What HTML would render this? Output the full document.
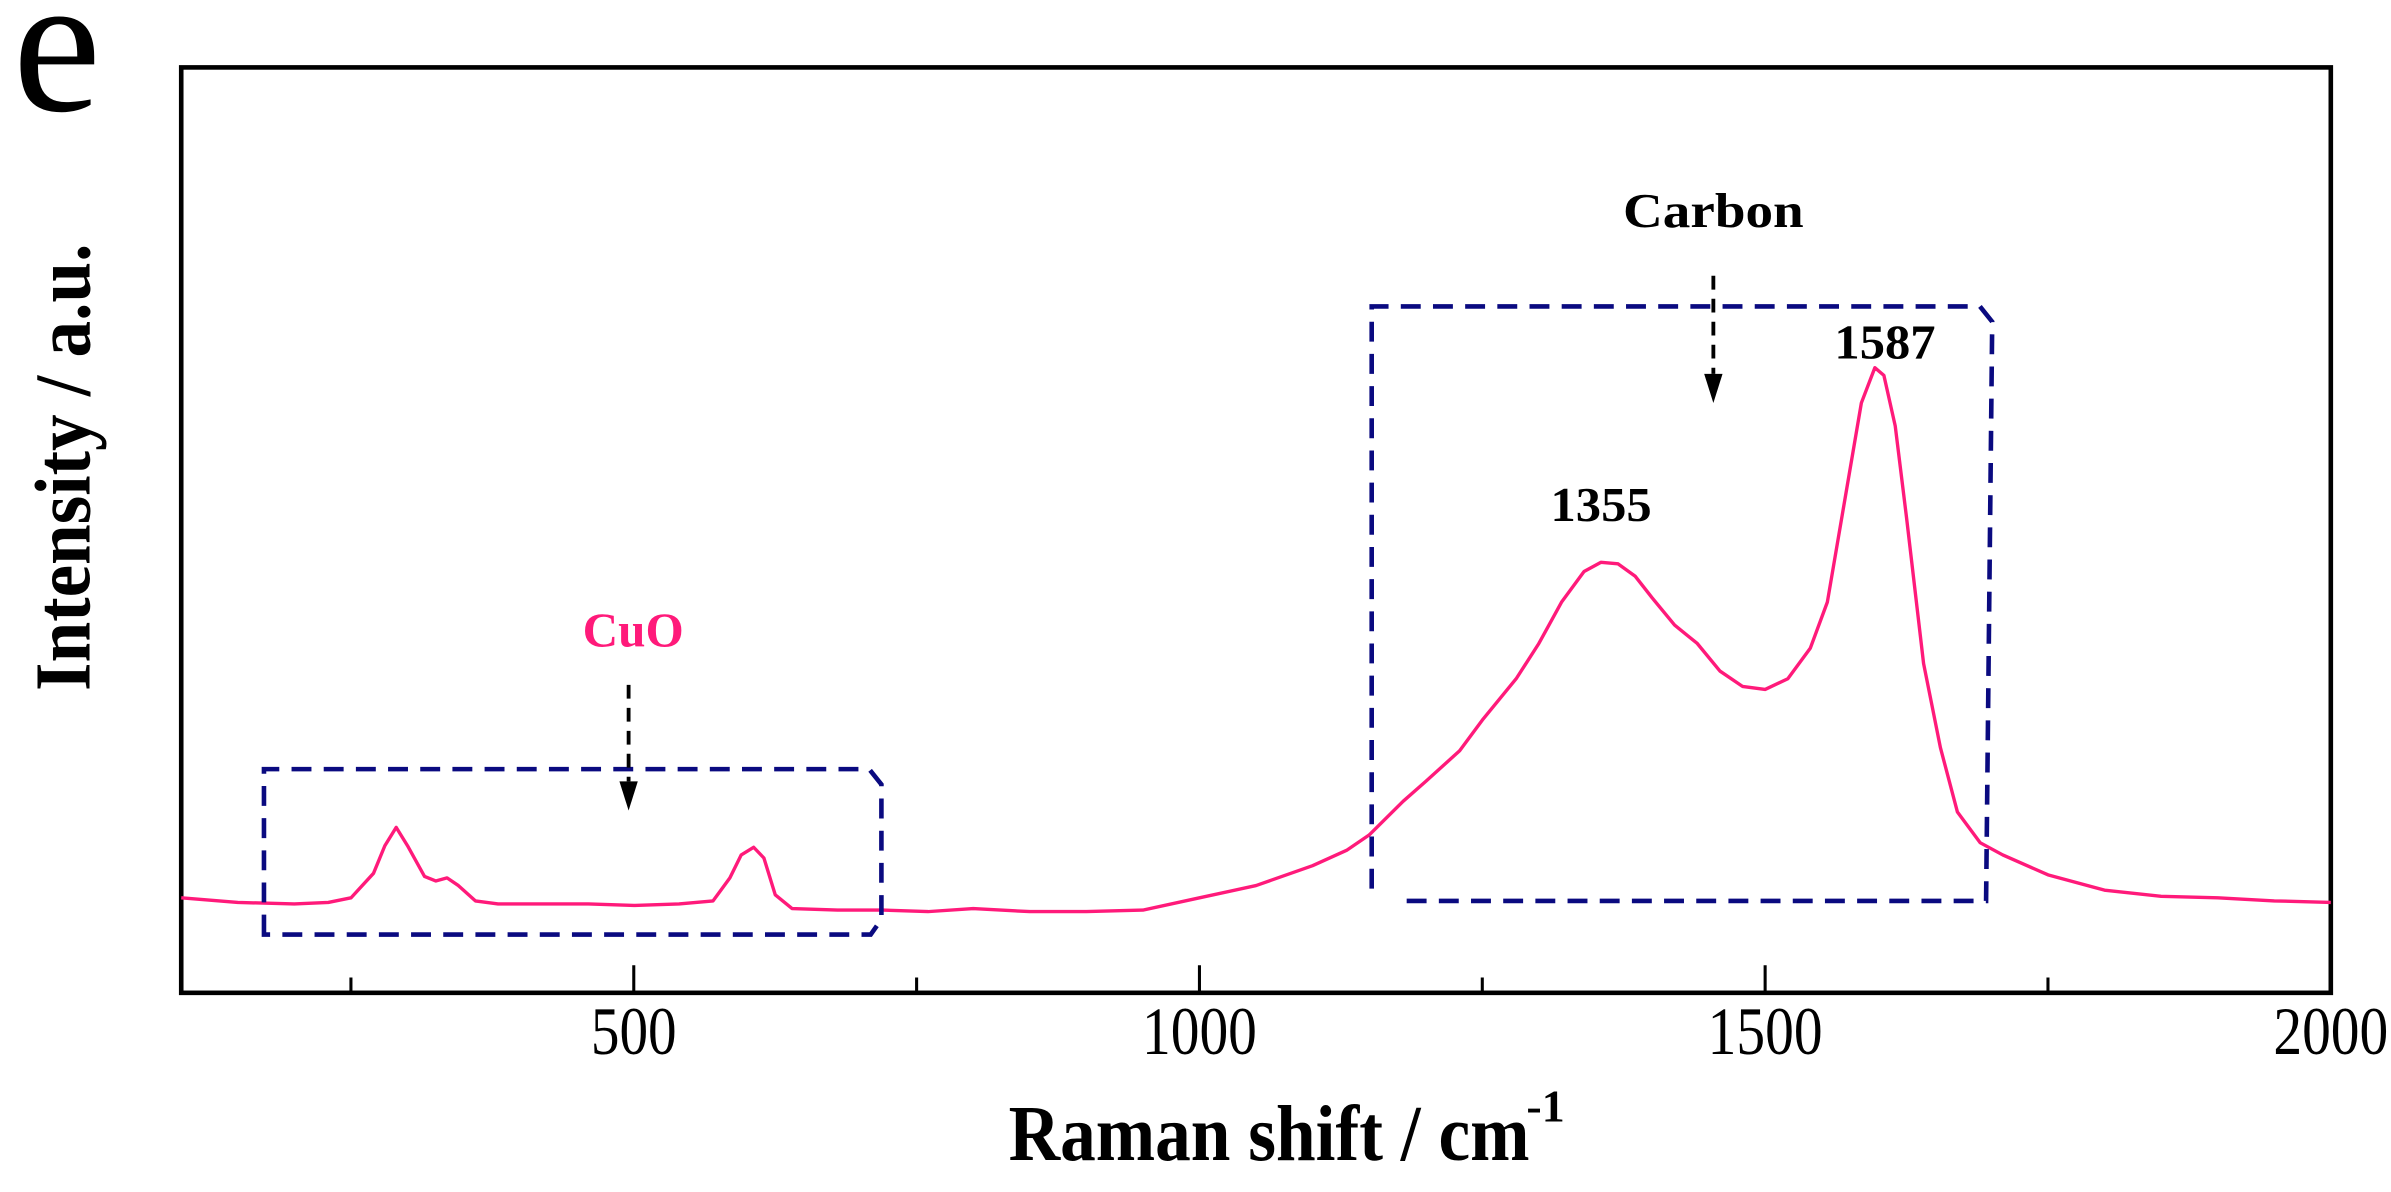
<!DOCTYPE html>
<html><head><meta charset="utf-8"><style>
html,body{margin:0;padding:0;background:#fff;}
svg{display:block;font-family:"Liberation Serif",serif;}
</style></head><body>
<svg width="2391" height="1192" viewBox="0 0 1560 778" xmlns="http://www.w3.org/2000/svg">
<g id="chart"></g>
</svg>
<script>
// Raman shift (cm^-1)
const shifts = [100,150,200,230,250,270,280,290,300,315,325,335,345,360,380,420,460,500,540,570,585,595,606,615,625,640,680,720,760,800,850,900,950,1000,1050,1100,1130,1150,1180,1200,1230,1250,1280,1300,1320,1340,1355,1370,1385,1400,1420,1440,1460,1480,1500,1520,1540,1555,1570,1585,1597,1605,1615,1625,1640,1655,1670,1690,1710,1750,1800,1850,1900,1950,2000];
// Intensity (a.u.)
const intensity = [62,59,58,59,62,78,96,108,96,76,73,75,70,60,58,58,58,57,58,60,75,90,95,88,64,55,54,54,53,55,53,53,54,62,70,83,93,103,125,138,158,178,205,228,255,275,281,280,272,258,240,228,210,200,198,205,225,255,320,385,408,403,370,310,215,160,118,98,90,77,67,63,62,60,59];
const xTicks = [500,1000,1500,2000];
const xMinor = [250,750,1250,1750];
const peakLabels = [1355,1587];
const peakLabelI = [294,400];

const L=118,R=1521,T=44,B=648;
const xS = v => L + (v-100)/(2000-100)*(R-L);
const yS = v => B - v;
const g = document.getElementById('chart');
const NS='http://www.w3.org/2000/svg';
function mk(tag, attrs, parent){const e=document.createElementNS(NS,tag);for(const k in attrs)e.setAttribute(k,attrs[k]);(parent||g).appendChild(e);return e;}

// frame
const frame = mk('rect',{x:L,y:T,width:R-L,height:B-T,fill:'none',stroke:'#000','stroke-width':3});



// ticks
xTicks.forEach(v=>{
  const t=mk('line',{x1:xS(v),x2:xS(v),y1:B,y2:B-18,stroke:'#000','stroke-width':2});
  
  
  const lb=mk('text',{x:xS(v),y:688,'text-anchor':'middle','font-size':44,textLength:v>=1000?75:56,lengthAdjust:'spacingAndGlyphs'});
  lb.textContent=v;
  
  
});
xMinor.forEach(v=>{
  const t=mk('line',{x1:xS(v),x2:xS(v),y1:B,y2:B-10,stroke:'#000','stroke-width':2});
  
  
});

// series
let d='';
shifts.forEach((s,i)=>{d+=(i?'L':'M')+xS(s).toFixed(1)+','+yS(intensity[i]).toFixed(1);});
const line=mk('path',{d:d,fill:'none',stroke:'#ff1a7a','stroke-width':2.2,'stroke-linejoin':'round'});



// boxes
const dash={fill:'none',stroke:'#0a0a80','stroke-width':3,'stroke-dasharray':'13 8'};
const b1=mk('path',Object.assign({d:'M172,610 L172,502 L567,502 L575,512 L575,600 L568,610 Z'},dash));


const b2=mk('path',Object.assign({d:'M895,580 L895,200 L1292,200 L1300,210 L1296,588 L910,588'},dash));



// arrows
[[410,447,510],[1118,180,244]].forEach(a=>{
  const l=mk('line',{x1:a[0],x2:a[0],y1:a[1],y2:a[2],stroke:'#000','stroke-width':2.5,'stroke-dasharray':'9 6'});
  
  
  const h=mk('path',{d:`M${a[0]-6},${a[2]} L${a[0]+6},${a[2]} L${a[0]},${a[2]+19} Z`,fill:'#000'});
  
  
});

// peak labels
peakLabels.forEach((p,i)=>{
  const t=mk('text',{x:xS(p)+(i?14:0),y:yS(peakLabelI[i])-14,'text-anchor':'middle','font-size':32,'font-weight':'bold',textLength:66,lengthAdjust:'spacingAndGlyphs'});
  t.textContent=p;
  
  
});
</script>
<svg style="position:absolute;left:0;top:0" width="2391" height="1192" viewBox="0 0 1560 778" xmlns="http://www.w3.org/2000/svg">
<text x="8" y="72" font-family="Liberation Serif,serif" font-size="130">e</text>
<text x="413" y="422" text-anchor="middle" font-family="Liberation Serif,serif" font-size="32" font-weight="bold" fill="#ff1a7a" textLength="66" lengthAdjust="spacingAndGlyphs">CuO</text>
<text x="1118" y="148" text-anchor="middle" font-family="Liberation Serif,serif" font-size="32" font-weight="bold" textLength="118" lengthAdjust="spacingAndGlyphs">Carbon</text>
<text x="658" y="757" font-family="Liberation Serif,serif" font-size="52" font-weight="bold" textLength="340" lengthAdjust="spacingAndGlyphs">Raman shift / cm</text>
<text x="996" y="732" font-family="Liberation Serif,serif" font-size="30" font-weight="bold">-1</text>
<text transform="translate(58,305) rotate(-90)" text-anchor="middle" font-family="Liberation Serif,serif" font-size="52" font-weight="bold" textLength="292" lengthAdjust="spacingAndGlyphs">Intensity / a.u.</text>
</svg>
<style>body{position:relative;width:2391px;height:1192px;overflow:hidden}</style>
</body></html>
